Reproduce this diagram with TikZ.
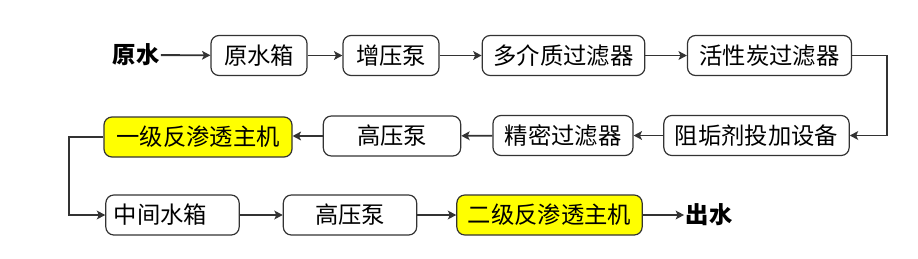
\documentclass[tikz,border=0pt]{standalone}
\usepackage{fontspec}
\usepackage{xcolor}
\usepackage{tikz}
\usetikzlibrary{arrows.meta, positioning, calc}
\newfontfamily\cjk{Noto Sans CJK SC}
\definecolor{garis}{HTML}{333333}
\definecolor{kuning}{HTML}{FFFF00}

\begin{document}
\begin{tikzpicture}[
    x=0.75pt, y=-0.75pt,
    font=\cjk\fontsize{17.5}{20}\selectfont,
    tahap/.style={draw=garis, rounded corners=6pt, minimum height=30pt,
                  inner sep=0pt, align=center, line width=0.9pt},
    utama/.style={tahap, fill=kuning},
    ujung/.style={font=\cjk\bfseries\fontsize{17.5}{20}\selectfont, inner sep=1pt},
    alir/.style={-{Stealth[length=2.2mm, width=2.3mm, inset=0.5mm]}, line width=1.4pt, draw=garis}
  ]
    \useasboundingbox (0,0) rectangle (918,258);
    % baris atas
    \node[ujung] (masuk) at (136,55) {原水};
    \node[tahap, minimum width=72pt] (tangki1) at (259,55.5) {原水箱};
    \node[tahap, minimum width=72pt] (pompa1) at (391,55.5) {增压泵};
    \node[tahap, minimum width=122pt] (saring1) at (563.5,55.5) {多介质过滤器};
    \node[tahap, minimum width=123pt] (saring2) at (769.5,55.5) {活性炭过滤器};
    % baris tengah
    \node[tahap, minimum width=139pt] (dosis) at (756.5,135.5) {阻垢剂投加设备};
    \node[tahap, minimum width=105pt] (saring3) at (563,135.5) {精密过滤器};
    \node[tahap, minimum width=103pt] (pompa2) at (392,136) {高压泵};
    \node[utama, minimum width=141pt] (ro1) at (198,137) {一级反渗透主机};
    % baris bawah
    \node[tahap, minimum width=100pt, text width=88pt, align=left] (tangki2) at (172.5,215) {中间水箱};
    \node[tahap, minimum width=100pt] (pompa3) at (350,215) {高压泵};
    \node[utama, minimum width=139pt] (ro2) at (549.5,215) {二级反渗透主机};
    \node[ujung] (keluar) at (709,215) {出水};

    \coordinate (belok1) at (887,55.5);
    \coordinate (belok2) at (69,137);

    \draw[alir] (masuk) -- (tangki1);
    \draw[alir] (tangki1) -- (pompa1);
    \draw[alir] (pompa1) -- (saring1);
    \draw[alir] (saring1) -- (saring2);
    \draw[alir] (saring2.east) -- (belok1) |- (dosis.east);
    \draw[alir] (dosis) -- (saring3);
    \draw[alir] (saring3) -- (pompa2);
    \draw[alir] (pompa2) -- (ro1.east |- pompa2);
    \draw[alir] (ro1.west) -- (belok2) |- (tangki2.west);
    \draw[alir] (tangki2) -- (pompa3);
    \draw[alir] (pompa3) -- (ro2);
    \draw[alir] (ro2) -- (keluar);
  \end{tikzpicture}
\end{document}
